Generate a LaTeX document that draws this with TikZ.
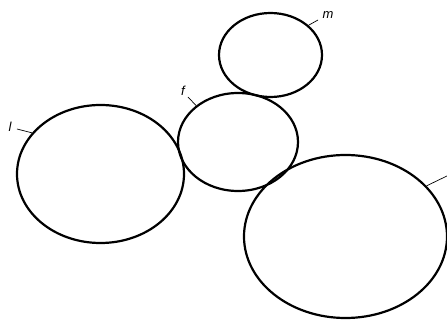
\documentclass[tikz,border=0pt]{standalone}
\usepackage{fontspec}
\setmainfont{Liberation Sans}
\usepackage{tikz}
\usetikzlibrary{shapes.geometric, positioning}

\begin{document}
\begin{tikzpicture}[
    x=1pt, y=-1pt,
    every node/.style={font=\fontsize{13}{13}\selectfont\itshape},
    ring/.style={
        ellipse,
        draw=black,
        line width=2.2pt,
        inner sep=0pt
    },
    leader/.style={line width=0.7pt}
]
\useasboundingbox (0,0) rectangle (447,320);

\node (left)  [ring, minimum width=167pt, minimum height=138pt] at (100.5,174) {};
\node (mid)   [ring, minimum width=120pt, minimum height=98pt]  at (238,142) {};
\node (top)   [ring, minimum width=103pt, minimum height=84pt]  at (270.5,55) {};
\node (big)   [ring, minimum width=203pt, minimum height=163pt] at (345.5,236.5) {};

% Labels
\coordinate (lend) at (17,129);
\coordinate (fend) at (188,97);
\coordinate (mend) at (318,20);
\coordinate (bend) at (449,175);

\node (llab) at (10,127) {l};
\node (flab) at (183,91) {f};
\node (mlab) at (328,15) {m};

% Leaders
\draw[leader] (lend) -- (left.149.5);
\draw[leader] (fend) -- (mid.139.4);
\draw[leader] (mend) -- (top.38.5);
\draw[leader] (bend) -- (big.32);

\end{tikzpicture}
\end{document}
